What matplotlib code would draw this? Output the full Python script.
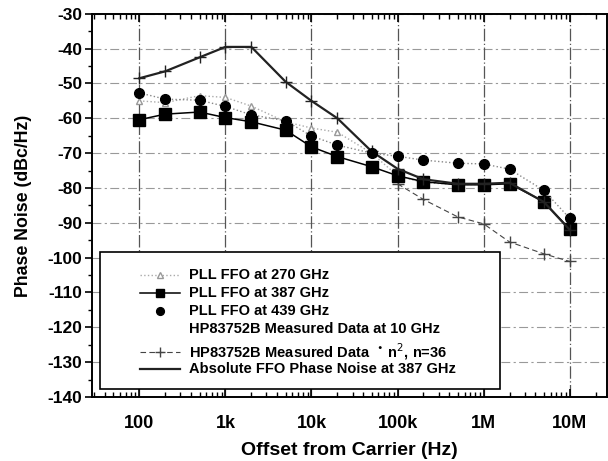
import matplotlib
matplotlib.use("Agg")
import matplotlib.pyplot as plt
from matplotlib.lines import Line2D
from matplotlib.patches import Rectangle
from matplotlib.ticker import FixedLocator, LogLocator, NullFormatter, MultipleLocator

plt.rcParams['font.family'] = ['Liberation Sans', 'DejaVu Sans']

freq = [100, 200, 500, 1e3, 2e3, 5e3, 1e4, 2e4, 5e4, 1e5, 2e5, 5e5, 1e6, 2e6, 5e6, 1e7]
pll_270 = [-55, -55.5, -53.5, -54, -56.5, -61, -62.8, -64, -70, -76.5, -78.5, -79, -79, -78.5, -84, -92]
pll_387 = [-60.4, -58.8, -58.2, -59.8, -61, -63.4, -68.2, -71, -73.9, -76.5, -78.2, -79.1, -79.1, -78.8, -83.9, -91.8]
pll_439 = [-52.7, -54.5, -54.8, -56.6, -59, -60.7, -65.1, -67.7, -70, -70.9, -72, -72.9, -73.1, -74.6, -80.7, -88.7]
hp_n2_freq = [1e5, 2e5, 5e5, 1e6, 2e6, 5e6, 1e7]
hp_n2 = [-78.8, -83.3, -88.3, -90.3, -95.5, -98.9, -101.1]
abs_ffo = [-48.5, -46.5, -42.5, -39.5, -39.5, -49.5, -55, -60, -69.5, -74.5, -77.5, -78.8, -78.8, -78.5, -84, -92]

xticks = [100, 1e3, 1e4, 1e5, 1e6, 1e7]
xticklabels = ['100', '1k', '10k', '100k', '1M', '10M']
yticks = list(range(-140, -29, 10))
yticklabels = ['-%d' % abs(v) for v in yticks]

labels = ['PLL FFO at 270 GHz', 'PLL FFO at 387 GHz', 'PLL FFO at 439 GHz',
          'HP83752B Measured Data at 10 GHz',
          'HP83752B Measured Data  $^{\\bullet}$ n$^{2}$, n=36',
          'Absolute FFO Phase Noise at 387 GHz']

styles = [
    dict(color='#aaaaaa', ls=':', lw=1.0, marker='^', ms=5, mfc='white', mec='#999999'),
    dict(color='black', ls='-', lw=1.1, marker='s', ms=8),
    dict(color='#888888', ls=':', lw=1.0, marker='o', ms=7, mfc='black', mec='black'),
    None,
    dict(color='#444444', ls=(0, (5, 3)), lw=0.8, marker='+', ms=9, mew=1.0),
    dict(color='#222222', ls='-', lw=1.6, marker='+', ms=8, mew=1.0),
]

fig = plt.figure(figsize=(6.08, 4.61), dpi=100)
ax = fig.add_axes([0.151, 0.139, 0.847, 0.831])
ax.set_xscale('log')
ax.set_xlim(28, 2.7e7)
ax.set_ylim(-140, -30)

# grid
for y in yticks:
    ax.axhline(y, color='#999999', lw=0.8, ls=(0, (8, 3, 2, 3)), zorder=0)
for x in xticks:
    ax.axvline(x, color='#555555', lw=0.9, ls=(0, (10, 2, 1, 2)), zorder=0)

ax.plot(freq, pll_270, zorder=3, **styles[0])
ax.plot(freq, pll_387, zorder=4, **styles[1])
ax.plot(freq, pll_439, zorder=5, **styles[2])
ax.plot(hp_n2_freq, hp_n2, zorder=3, **styles[4])
ax.plot(freq, abs_ffo, zorder=4, **styles[5])

ax.xaxis.set_major_locator(FixedLocator(xticks))
ax.set_xticklabels(xticklabels)
ax.xaxis.set_minor_locator(LogLocator(base=10, subs=range(2, 10), numticks=20))
ax.xaxis.set_minor_formatter(NullFormatter())
ax.yaxis.set_major_locator(FixedLocator(yticks))
ax.set_yticklabels(yticklabels)
ax.yaxis.set_minor_locator(MultipleLocator(5))

ax.tick_params(axis='x', which='major', direction='in', length=6, width=1.2, top=True,
               labelsize=13, pad=13)
ax.tick_params(axis='x', which='minor', direction='in', length=3.5, width=1.0, top=True)
ax.tick_params(axis='y', which='major', direction='out', length=5, width=1.2, labelsize=12.5, pad=2)
ax.tick_params(axis='y', which='minor', direction='out', length=3, width=1.0)
for lab in ax.get_xticklabels() + ax.get_yticklabels():
    lab.set_fontweight('bold')

for s in ax.spines.values():
    s.set_linewidth(1.4)

ax.set_xlabel('Offset from Carrier (Hz)', fontsize=14, fontweight='bold', labelpad=7)
ax.set_ylabel('Phase Noise (dBc/Hz)', fontsize=12.8, fontweight='bold', labelpad=11)

# manual legend (axes coordinates)
frame = Rectangle((0.0155, 0.021), 0.7765, 0.3576, transform=ax.transAxes,
                  facecolor='white', edgecolor='black', lw=1.2, zorder=10)
ax.add_patch(frame)
row_y = [0.3185, 0.2715, 0.2245, 0.1775, 0.1175, 0.0731]
hx0, hx1, tx = 0.0932, 0.171, 0.188
for yy, lab, st in zip(row_y, labels, styles):
    if st is not None:
        st2 = dict(st)
        mk = st2.pop('marker', None)
        ms = st2.pop('ms', 6)
        mfc = st2.pop('mfc', None)
        mec = st2.pop('mec', None)
        mew = st2.pop('mew', None)
        if lab.startswith('PLL FFO at 439'):
            st2['ls'] = 'none'
        ln = Line2D([hx0, hx1], [yy, yy], transform=ax.transAxes, zorder=11, **st2)
        ax.add_line(ln)
        if mk is not None and not lab.startswith('Absolute'):
            kw = dict(marker=mk, ms=ms * 0.8, ls='none', color=st['color'])
            if mfc is not None:
                kw['mfc'] = mfc
            if mec is not None:
                kw['mec'] = mec
            if mew is not None:
                kw['mew'] = mew
            if mk == 's' or mk == 'o':
                kw['color'] = 'black'
            ax.add_line(Line2D([(hx0 + hx1) / 2], [yy], transform=ax.transAxes,
                               zorder=12, **kw))
    ax.text(tx, yy, lab, transform=ax.transAxes, fontsize=10.5, fontweight='bold',
            va='center', ha='left', zorder=12)

fig.savefig('out.png', dpi=100)
